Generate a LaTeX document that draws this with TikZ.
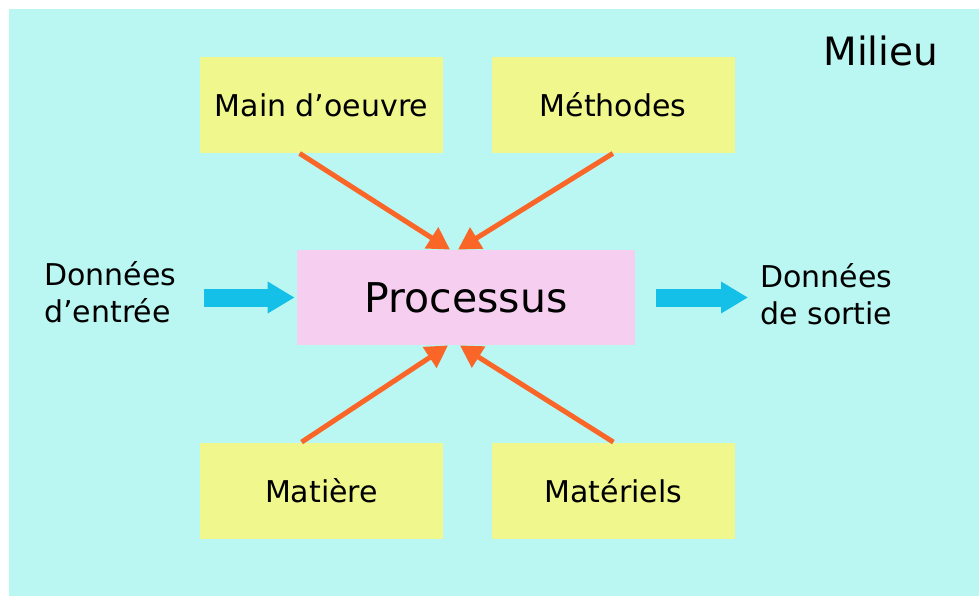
\documentclass[tikz,border=0pt]{standalone}
\usepackage{fontspec}
\setmainfont{DejaVu Sans}
\usepackage{tikz}
\usetikzlibrary{arrows.meta}
\usetikzlibrary{positioning}

\definecolor{milieucyan}{RGB}{186,247,242}
\definecolor{boxyellow}{RGB}{240,247,140}
\definecolor{procpink}{RGB}{246,206,240}
\definecolor{feedorange}{RGB}{250,102,40}
\definecolor{datablue}{RGB}{20,192,232}

\begin{document}
\begin{tikzpicture}
		[
		x=0.5pt, y=-0.5pt,
		font=\fontsize{15}{18.5}\selectfont
		]
		
		% Node styles: resource boxes, the process, the data texts
		\tikzstyle{res node}=[fill=boxyellow,minimum width=121.5pt,minimum height=48pt,inner sep=0];
		\tikzstyle{proc node}=[fill=procpink,minimum width=169pt,minimum height=47.5pt,inner sep=0,font=\fontsize{20.5}{24}\selectfont];
		\tikzstyle{data node}=[align=left,inner sep=0,anchor=west];
		
		% Arrow styles
		\tikzstyle{feed arrow}=[draw=feedorange,line width=2.5pt,-{Triangle[length=11pt,width=12pt]}];
		\tikzstyle{data arrow}=[draw=datablue,line width=9pt,-{Triangle[length=13.5pt,width=15pt]}];
		
		% The surroundings
		\fill[white](0,0) rectangle (979,596);
		\fill[milieucyan](9,9) rectangle (979,596);
		\useasboundingbox (0,0) rectangle (979,596);
		\node(milieu)[anchor=base west,inner sep=0,font=\fontsize{19.5}{23}\selectfont]at(823,65){Milieu};
		
		% The process and its resources
		\node(proc)[proc node]at(466,297.5){Processus};
		\node(main)[res node]at(321.5,105){Main d’oeuvre};
		\node(meth)[res node]at(613,105){Méthodes};
		\node(mat)[res node]at(321.5,490.5){Matière};
		\node(matl)[res node]at(613.5,490.5){Matériels};
		
		% Input and output
		\node(in)[data node]at(44,292){Données\\d’entrée};
		\node(out)[data node]at(760,294){Données\\de sortie};
		
		% Resources feeding the process
		\draw[feed arrow]([xshift=50pt]main.south west)--([xshift=-8pt]proc.north);
		\draw[feed arrow]([xshift=-61pt]meth.south east)--([xshift=-4pt]proc.north);
		\draw[feed arrow]([xshift=51pt]mat.north west)--([xshift=-9pt]proc.south);
		\draw[feed arrow]([xshift=-61pt]matl.north east)--([xshift=-3pt]proc.south);
		
		% Data in and out
		\draw[data arrow,shorten <=13.5pt,shorten >=1pt](in.east |- proc.west)--(proc.west);
		\draw[data arrow,shorten <=10.5pt,shorten >=6pt](proc.east)--(proc.east -| out.west);
		\end{tikzpicture}
\end{document}
